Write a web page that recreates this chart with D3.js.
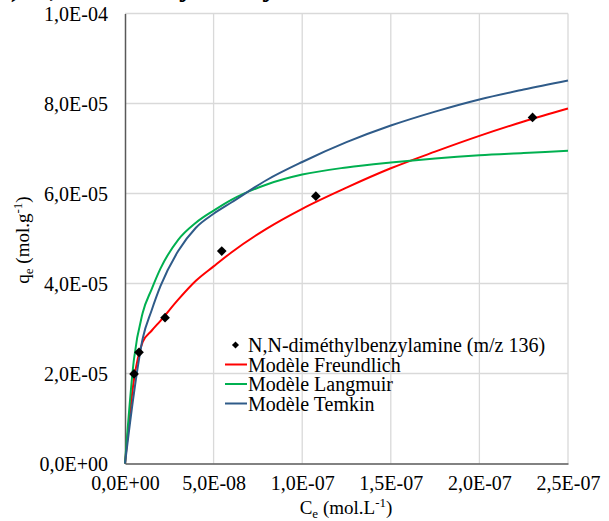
<!DOCTYPE html>
<html>
<head>
<meta charset="utf-8">
<script src="https://cdn.jsdelivr.net/npm/d3@7"></script>
<style>
  html, body { margin: 0; padding: 0; background: #ffffff; }
  svg { display: block; }
</style>
</head>
<body>
<svg id="chart" width="609" height="521"></svg>
<script>
// ---- data ----
const titleText = "b) N,N-diméthylbenzylamine";
const xTicks = [0, 5e-8, 1e-7, 1.5e-7, 2e-7, 2.5e-7];
const xTickLabels = ["0,0E+00", "5,0E-08", "1,0E-07", "1,5E-07", "2,0E-07", "2,5E-07"];
const yTicks = [0, 2e-5, 4e-5, 6e-5, 8e-5, 1e-4];
const yTickLabels = ["0,0E+00", "2,0E-05", "4,0E-05", "6,0E-05", "8,0E-05", "1,0E-04"];

// experimental points: Ce (mol/L), qe (mol/g)
const expCe = [5.1e-9, 7.9e-9, 2.26e-8, 5.46e-8, 1.077e-7, 2.30e-7];
const expQe = [1.99e-5, 2.47e-5, 3.24e-5, 4.72e-5, 5.94e-5, 7.69e-5];

// model curves, values at these Ce values
const modelCe = [0, 5e-9, 1e-8, 1.5e-8, 2e-8, 3e-8, 4e-8, 5e-8, 6e-8, 8e-8, 1e-7, 1.25e-7, 1.5e-7, 1.75e-7, 2e-7, 2.25e-7, 2.5e-7];
const freundQe = [0, 1.85e-5, 2.70e-5, 2.95e-5, 3.17e-5, 3.64e-5, 4.06e-5, 4.38e-5, 4.69e-5, 5.22e-5, 5.66e-5, 6.13e-5, 6.56e-5, 6.93e-5, 7.28e-5, 7.60e-5, 7.89e-5];
const langQe   = [0, 2.30e-5, 3.35e-5, 3.87e-5, 4.33e-5, 4.97e-5, 5.35e-5, 5.62e-5, 5.86e-5, 6.20e-5, 6.42e-5, 6.58e-5, 6.69e-5, 6.78e-5, 6.85e-5, 6.90e-5, 6.95e-5];
const temQe    = [0, 1.55e-5, 2.78e-5, 3.40e-5, 3.94e-5, 4.72e-5, 5.24e-5, 5.55e-5, 5.80e-5, 6.30e-5, 6.70e-5, 7.14e-5, 7.51e-5, 7.82e-5, 8.09e-5, 8.31e-5, 8.51e-5];

const legendLabels = ["N,N-diméthylbenzylamine (m/z 136)", "Modèle Freundlich", "Modèle Langmuir", "Modèle Temkin"];
const seriesColors = ["#000000", "#ff0000", "#00b050", "#2f5b89"];

// ---- drawing ----
(function () {
const FONT = '"Liberation Serif"';
const svg = d3.select("#chart");
const pLeft = 125, pRight = 568, pTop = 13.5, pBottom = 463.5;

const x = d3.scaleLinear().domain([0, 2.5e-7]).range([pLeft, pRight]);
const y = d3.scaleLinear().domain([0, 1e-4]).range([pBottom, pTop]);

// partially visible title (cut at top of the picture)
svg.append("text")
  .attr("x", -6).attr("y", -4)
  .style("font-family", FONT)
  .attr("font-size", 30).attr("font-weight", "bold")
  .text(titleText);

// gridlines
const grid = svg.append("g").attr("stroke", "#d9d9d9").attr("stroke-width", 1.3);
grid.selectAll("line.v").data(xTicks.slice(1)).join("line").attr("class", "v")
  .attr("x1", d => x(d)).attr("x2", d => x(d))
  .attr("y1", pTop).attr("y2", pBottom);
grid.selectAll("line.h").data(yTicks.slice(1)).join("line").attr("class", "h")
  .attr("x1", pLeft).attr("x2", pRight)
  .attr("y1", d => y(d)).attr("y2", d => y(d));

// axes
const xAxis = d3.axisBottom(x).tickValues(xTicks).tickSize(0).tickPadding(12)
  .tickFormat((d, i) => xTickLabels[i]);
const yAxis = d3.axisLeft(y).tickValues(yTicks).tickSize(0).tickPadding(17)
  .tickFormat((d, i) => yTickLabels[i]);

const gx = svg.append("g").attr("transform", `translate(0,${pBottom})`).call(xAxis);
const gy = svg.append("g").attr("transform", `translate(${pLeft},0)`).call(yAxis);
[gx, gy].forEach(g => {
  g.attr("font-family", null).attr("font-size", null);
  g.select(".domain").attr("stroke", "#595959").attr("stroke-width", 1.5);
  g.selectAll("text").style("font-family", FONT).style("font-size", "20px").attr("fill", "#000");
});
gx.selectAll("text").attr("dy", "0.71em");
gy.selectAll("text").attr("dy", "0.35em");

// axis titles
const xt = svg.append("text").attr("x", 346).attr("y", 514)
  .style("font-family", FONT)
  .attr("text-anchor", "middle").attr("font-size", 19);
xt.append("tspan").text("C");
xt.append("tspan").attr("font-size", 13).attr("dy", 4).text("e");
xt.append("tspan").attr("dy", -4).text(" (mol.L");
xt.append("tspan").attr("font-size", 13).attr("dy", -7).text("-1");
xt.append("tspan").attr("dy", 7).text(")");

const yt = svg.append("text")
  .attr("transform", "translate(29,240) rotate(-90)")
  .style("font-family", FONT)
  .attr("text-anchor", "middle").attr("font-size", 19);
yt.append("tspan").text("q");
yt.append("tspan").attr("font-size", 13).attr("dy", 4).text("e");
yt.append("tspan").attr("dy", -4).text(" (mol.g");
yt.append("tspan").attr("font-size", 13).attr("dy", -7).text("-1");
yt.append("tspan").attr("dy", 7).text(")");

// model curves
const line = d3.line().x(d => x(d[0])).y(d => y(d[1])).curve(d3.curveMonotoneX);
const models = [
  { qe: freundQe, color: seriesColors[1] },
  { qe: langQe, color: seriesColors[2] },
  { qe: temQe, color: seriesColors[3] }
];
models.forEach(m => {
  svg.append("path")
    .datum(d3.zip(modelCe, m.qe))
    .attr("fill", "none")
    .attr("stroke", m.color)
    .attr("stroke-width", 2)
    .attr("stroke-linejoin", "round")
    .attr("d", line);
});

// experimental points (diamonds)
const diamond = d3.symbol().type(d3.symbolDiamond2).size(60);
svg.append("g").selectAll("path")
  .data(d3.zip(expCe, expQe)).join("path")
  .attr("transform", d => `translate(${x(d[0])},${y(d[1])})`)
  .attr("d", diamond)
  .attr("fill", "#000");

// legend
const lg = svg.append("g");
const rowY = [345, 364.5, 384, 403.5];
legendLabels.forEach((lab, i) => {
  if (i === 0) {
    lg.append("path")
      .attr("transform", `translate(235.5,${rowY[i]})`)
      .attr("d", d3.symbol().type(d3.symbolDiamond2).size(32))
      .attr("fill", "#000");
  } else {
    lg.append("line")
      .attr("x1", 225).attr("x2", 247)
      .attr("y1", rowY[i]).attr("y2", rowY[i])
      .attr("stroke", seriesColors[i]).attr("stroke-width", 2);
  }
  lg.append("text")
    .attr("x", 248).attr("y", rowY[i]).attr("dy", "0.35em")
    .style("font-family", FONT)
    .attr("font-size", 20)
    .text(lab);
});
})();
</script>
</body>
</html>
